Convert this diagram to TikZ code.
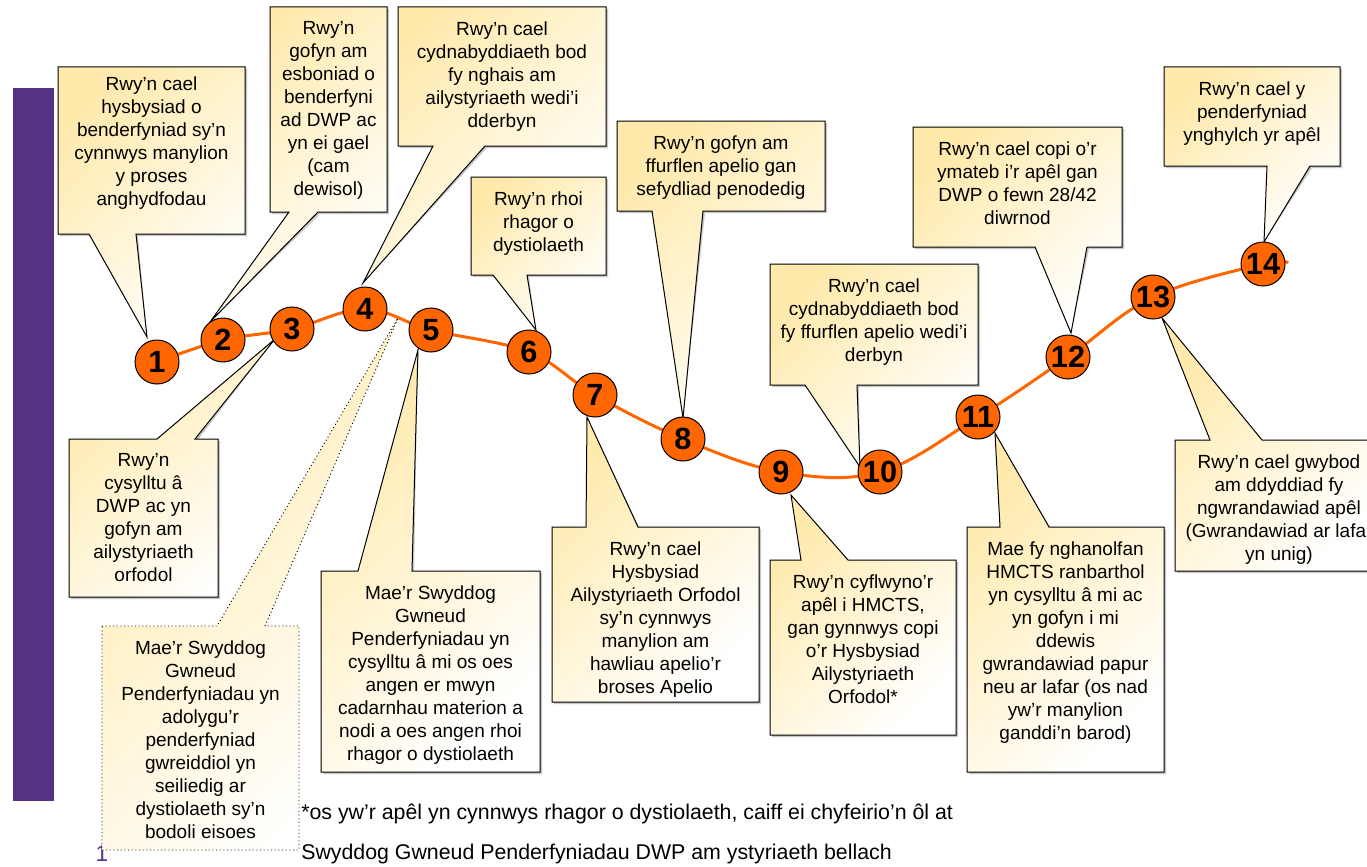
\documentclass[tikz,border=0pt]{standalone}
\usepackage{fontspec}
\setmainfont{Liberation Sans}
\definecolor{orng}{HTML}{FF6600}
\definecolor{purp}{HTML}{553282}
\definecolor{cyel}{HTML}{FFEAAC}
\tikzset{
  callout/.style={draw=black, line width=0.75pt, top color=cyel, bottom color=white, shading angle=45, line join=miter},
  shadowc/.style={fill=black!22},
  ctext/.style={anchor=north, inner sep=0pt, align=center, font=\fontsize{14.25pt}{17.25pt}\selectfont},
  stepnum/.style={circle, draw=black, line width=0.75pt, fill=orng, minimum size=33pt, inner sep=0pt, font=\bfseries\fontsize{23pt}{23pt}\selectfont},
}
\newcommand\drawcallout[1]{%
  \fill[shadowc, shift={(2,2)}] #1;
  \path[callout] #1;}
\begin{document}
\begin{tikzpicture}[x=0.75pt,y=-0.75pt]
\useasboundingbox (0,0) rectangle (1367,867);
\fill[white] (0,0) rectangle (1367,867);
% purple bar
\fill[purp] (13,88) rectangle (54,801);
\node[anchor=north, inner sep=0pt, text=purp, font=\fontsize{17pt}{17pt}\selectfont] (slidenum) at (102,846) {1};

% circle centres
\coordinate (c1) at (157,362);
\coordinate (c2) at (223,340);
\coordinate (c3) at (292,329);
\coordinate (c4) at (365,309);
\coordinate (c5) at (431,330);
\coordinate (c6) at (529,352);
\coordinate (c7) at (595,395);
\coordinate (c8) at (683,439);
\coordinate (c9) at (781,472);
\coordinate (c10) at (880,472);
\coordinate (c11) at (978,417);
\coordinate (c12) at (1068,357);
\coordinate (c13) at (1153,297);
\coordinate (c14) at (1263,264);
\coordinate (cend) at (1288,263);

% pointer tips
\coordinate (p1) at (147,337);
\coordinate (p2) at (210,322);
\coordinate (p3) at (275,339);
\coordinate (p4) at (363,283);
\coordinate (p5) at (398,318);
\coordinate (p6) at (418,350);
\coordinate (p7) at (536,330);
\coordinate (p8) at (683,418);
\coordinate (p9) at (587,417);
\coordinate (p10) at (860,467);
\coordinate (p11) at (791,495);
\coordinate (p12) at (995,433);
\coordinate (p13) at (1071,333);
\coordinate (p14) at (1264,242);
\coordinate (p15) at (1162,318);

% callouts with pointer at bottom
\drawcallout{(58,67) -- (245,67) -- (245,234) -- (136,234) -- (p1) -- (89,234) -- (58,234) -- cycle}
\drawcallout{(270,7) -- (387,7) -- (387,212) -- (318,212) -- (p2) -- (289,212) -- (270,212) -- cycle}
\drawcallout{(398,7) -- (606,7) -- (606,146) -- (485,146) -- (p4) -- (433,146) -- (398,146) -- cycle}
\drawcallout{(471,177) -- (606,177) -- (606,275) -- (527,275) -- (p7) -- (493,275) -- (471,275) -- cycle}
\drawcallout{(617,121) -- (825,121) -- (825,211) -- (703,211) -- (p8) -- (652,211) -- (617,211) -- cycle}
\drawcallout{(770,264) -- (978,264) -- (978,385) -- (857,385) -- (p10) -- (805,385) -- (770,385) -- cycle}
\drawcallout{(913,127) -- (1122,127) -- (1122,247) -- (1087,247) -- (p13) -- (1035,247) -- (913,247) -- cycle}
\drawcallout{(1164,67) -- (1340,67) -- (1340,166) -- (1310,166) -- (p14) -- (1267,166) -- (1164,166) -- cycle}
% callouts with pointer at top
\drawcallout{(69,439) -- (157,439) -- (p3) -- (195,439) -- (218,439) -- (218,597) -- (69,597) -- cycle}
\path[callout, dotted, line width=0.7pt] (102,626) -- (217,626) -- (p5) -- (265,626) -- (299,626) -- (299,850) -- (102,850) -- cycle;
\drawcallout{(321,571) -- (358,571) -- (p6) -- (412,571) -- (540,571) -- (540,772) -- (321,772) -- cycle}
\drawcallout{(552,527) -- (586,527) -- (p9) -- (638,527) -- (759,527) -- (759,702) -- (552,702) -- cycle}
\drawcallout{(770,560) -- (801,560) -- (p11) -- (848,560) -- (956,560) -- (956,735) -- (770,735) -- cycle}
\drawcallout{(967,527) -- (1000,527) -- (p12) -- (1049,527) -- (1164,527) -- (1164,772) -- (967,772) -- cycle}
\drawcallout{(1175,440) -- (1210,440) -- (p15) -- (1262,440) -- (1383,440) -- (1383,571) -- (1175,571) -- cycle}

% texts
\node[ctext] (t1) at (151.5,76) {Rwy’n cael\\hysbysiad o\\benderfyniad sy’n\\cynnwys manylion\\y proses\\anghydfodau};
\node[ctext] (t2) at (328.5,21) {Rwy’n\\gofyn am\\esboniad o\\benderfyni\\ad DWP ac\\yn ei gael\\(cam\\dewisol)};
\node[ctext] (t3) at (143.5,453) {Rwy’n\\cysylltu â\\DWP ac yn\\gofyn am\\ailystyriaeth\\orfodol};
\node[ctext] (t4) at (502,21) {Rwy’n cael\\cydnabyddiaeth bod\\fy nghais am\\ailystyriaeth wedi’i\\dderbyn};
\node[ctext] (t5) at (200.5,640) {Mae’r Swyddog\\Gwneud\\Penderfyniadau yn\\adolygu’r\\penderfyniad\\gwreiddiol yn\\seiliedig ar\\dystiolaeth sy’n\\bodoli eisoes};
\node[ctext] (t6) at (430.5,585) {Mae’r Swyddog\\Gwneud\\Penderfyniadau yn\\cysylltu â mi os oes\\angen er mwyn\\cadarnhau materion a\\nodi a oes angen rhoi\\rhagor o dystiolaeth};
\node[ctext] (t7) at (538.5,191) {Rwy’n rhoi\\rhagor o\\dystiolaeth};
\node[ctext] (t8) at (721,135) {Rwy’n gofyn am\\ffurflen apelio gan\\sefydliad penodedig};
\node[ctext] (t9) at (655.5,541) {Rwy’n cael\\Hysbysiad\\Ailystyriaeth Orfodol\\sy’n cynnwys\\manylion am\\hawliau apelio’r\\broses Apelio};
\node[ctext] (t10) at (874,278) {Rwy’n cael\\cydnabyddiaeth bod\\fy ffurflen apelio wedi’i\\derbyn};
\node[ctext] (t11) at (863,574) {Rwy’n cyflwyno’r\\apêl i HMCTS,\\gan gynnwys copi\\o’r Hysbysiad\\Ailystyriaeth\\Orfodol*};
\node[ctext] (t12) at (1065.5,541) {Mae fy nghanolfan\\HMCTS ranbarthol\\yn cysylltu â mi ac\\yn gofyn i mi\\ddewis\\gwrandawiad papur\\neu ar lafar (os nad\\yw’r manylion\\ganddi’n barod)};
\node[ctext] (t13) at (1017.5,141) {Rwy’n cael copi o’r\\ymateb i’r apêl gan\\DWP o fewn 28/42\\diwrnod};
\node[ctext] (t14) at (1252,81) {Rwy’n cael y\\penderfyniad\\ynghylch yr apêl};
\node[ctext] (t15) at (1279,454) {Rwy’n cael gwybod\\am ddyddiad fy\\ngwrandawiad apêl\\(Gwrandawiad ar lafar\\yn unig)};

% footnote
\node[anchor=north west, inner sep=0pt, align=left, font=\fontsize{16pt}{30pt}\selectfont] (foot) at (301,804)
  {*os yw’r apêl yn cynnwys rhagor o dystiolaeth, caiff ei chyfeirio’n ôl at\\Swyddog Gwneud Penderfyniadau DWP am ystyriaeth bellach};

% orange path
\draw[orng, line width=2.25pt] plot[smooth, tension=0.6] coordinates {(c1) (c2) (c3) (c4) (c5) (c6) (c7) (c8) (c9) (c10) (c11) (c12) (c13) (c14) (cend)};

% step circles
\foreach \i in {1,...,14} {
  \node[stepnum] (n\i) at (c\i) {\i};
}
\end{tikzpicture}
\end{document}
